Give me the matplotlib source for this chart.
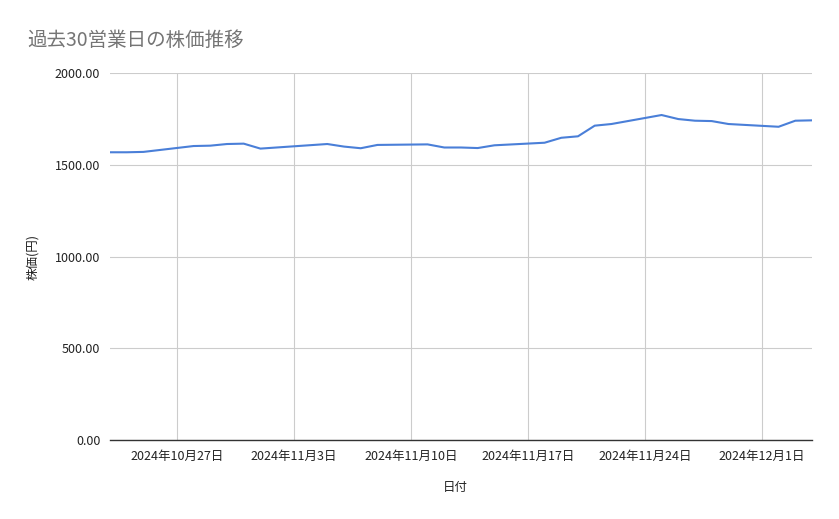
import matplotlib
matplotlib.use("Agg")
import matplotlib.pyplot as plt
import matplotlib.dates as mdates
import datetime as dt

plt.rcParams['font.family'] = ['Noto Sans CJK JP', 'DejaVu Sans']

dates = ["2024-10-23", "2024-10-24", "2024-10-25",
         "2024-10-28", "2024-10-29", "2024-10-30", "2024-10-31", "2024-11-01",
         "2024-11-05", "2024-11-06", "2024-11-07", "2024-11-08",
         "2024-11-11", "2024-11-12", "2024-11-13", "2024-11-14", "2024-11-15",
         "2024-11-18", "2024-11-19", "2024-11-20", "2024-11-21", "2024-11-22",
         "2024-11-25", "2024-11-26", "2024-11-27", "2024-11-28", "2024-11-29",
         "2024-12-02", "2024-12-03", "2024-12-04"]
prices = [1568, 1568, 1570,
          1602, 1604, 1613, 1615, 1588,
          1613, 1599, 1590, 1608,
          1611, 1594, 1594, 1591, 1606,
          1620, 1647, 1655, 1713, 1722,
          1771, 1749, 1740, 1738, 1722,
          1707, 1740, 1742]
title = "過去30営業日の株価推移"
xlabel = "日付"
ylabel = "株価(円)"
yticks = [0, 500, 1000, 1500, 2000]
xtick_dates = ["2024-10-27", "2024-11-03", "2024-11-10", "2024-11-17", "2024-11-24", "2024-12-01"]

x = [dt.datetime.strptime(d, "%Y-%m-%d") for d in dates]
xt = [dt.datetime.strptime(d, "%Y-%m-%d") for d in xtick_dates]

W, H = 839, 519
fig = plt.figure(figsize=(W / 100, H / 100), dpi=100)
L, R, T, B = 110, 812, 73, 440
ax = fig.add_axes([L / W, 1 - B / H, (R - L) / W, (B - T) / H])

ax.plot(x, prices, color="#4a7fd8", linewidth=1.5, solid_joinstyle="round", zorder=3)

ax.set_xlim(x[0], x[-1])
ax.set_ylim(0, 2000)
ax.set_yticks(yticks)
ax.set_yticklabels([f"{v:.2f}" for v in yticks])
ax.set_xticks(xt)
ax.set_xticklabels([f"{d.year}年{d.month}月{d.day}日" for d in xt])

ax.grid(True, color="#cccccc", linewidth=0.8, zorder=0)
for s in ["top", "right", "left"]:
    ax.spines[s].set_visible(False)
ax.spines["bottom"].set_color("#333333")
ax.spines["bottom"].set_linewidth(1.0)
ax.spines["bottom"].set_zorder(4)
ax.tick_params(axis="both", length=0, labelsize=9, labelcolor="#222222")
ax.tick_params(axis="x", pad=7)
ax.tick_params(axis="y", pad=7)

fig.text(27 / W, 1 - 40 / H, title, fontsize=14, color="#757575", va="center", ha="left")
fig.text(455 / W, 1 - 487 / H, xlabel, fontsize=9, color="#222222", va="center", ha="center")
fig.text(33 / W, 1 - 257 / H, ylabel, fontsize=9, color="#222222", va="center", ha="center", rotation=90)

fig.savefig("out.png", dpi=100)
